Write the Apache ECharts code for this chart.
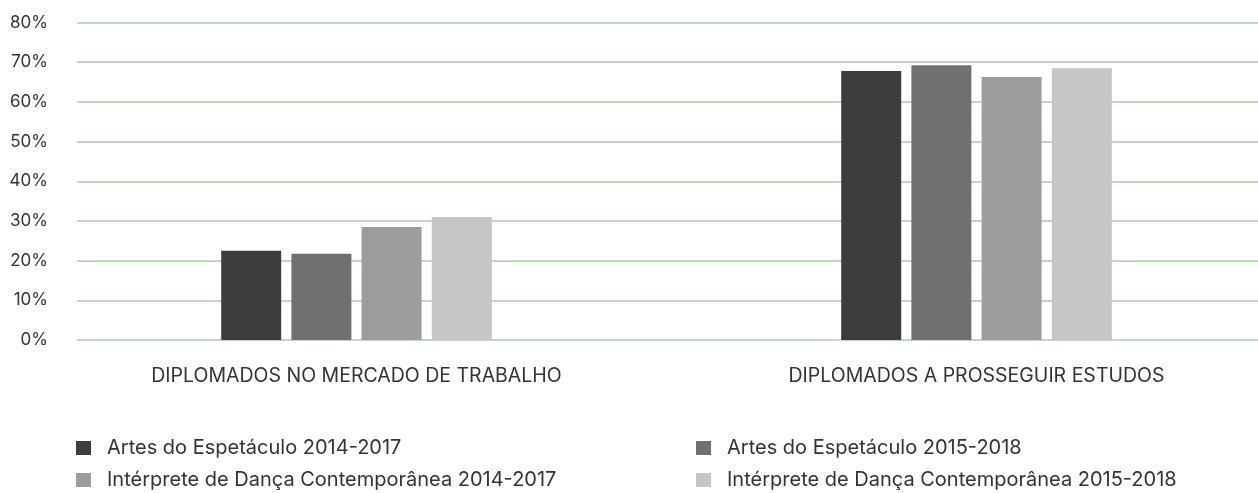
<!DOCTYPE html>
<html>
<head>
<meta charset="utf-8">
<script src="https://cdn.jsdelivr.net/npm/echarts@6/dist/echarts.min.js"></script>
<style>
html,body{margin:0;padding:0;background:#fff;}
#chart{width:1258px;height:493px;}
</style>
</head>
<body>
<div id="chart"></div>
<script>
const categories = ['DIPLOMADOS NO MERCADO DE TRABALHO', 'DIPLOMADOS A PROSSEGUIR ESTUDOS'];
const seriesNames = [
  'Artes do Espetáculo 2014-2017',
  'Artes do Espetáculo 2015-2018',
  'Intérprete de Dança Contemporânea 2014-2017',
  'Intérprete de Dança Contemporânea 2015-2018'
];
const artes1417 = [22.5, 67.75];
const artes1518 = [21.75, 69.25];
const danca1417 = [28.5, 66.25];
const danca1518 = [31, 68.5];
const seriesValues = [artes1417, artes1518, danca1417, danca1518];
const colors = ['#3c3c3a', '#707070', '#9d9d9b', '#c6c6c6'];

const FONT = 'Inter';
const chart = echarts.init(document.getElementById('chart'), null, {renderer: 'canvas'});

const legendPos = [
  {left: 76, top: 436},
  {left: 696, top: 436},
  {left: 76, top: 468},
  {left: 696, top: 468}
];

const option = {
  animation: false,
  backgroundColor: '#ffffff',
  grid: [
    {left: 77, right: 0, top: 22.5, height: 317.5, outerBoundsMode: 'none'},
    {left: 46.5, width: 1240, top: 22.5, height: 317.5, outerBoundsMode: 'none'}
  ],
  xAxis: [
    {type: 'category', gridIndex: 0, data: categories, show: false},
    {
      type: 'category', gridIndex: 1, data: categories,
      axisLine: {show: false}, axisTick: {show: false},
      axisLabel: {interval: 0, margin: 24, color: '#333333', fontSize: 19.5, fontFamily: FONT, lineHeight: 24}
    }
  ],
  yAxis: [
    {
      type: 'value', gridIndex: 0, min: 0, max: 80, interval: 10,
      axisLine: {show: false}, axisTick: {show: false},
      axisLabel: {formatter: '{value}%', margin: 29, color: '#333333', fontSize: 17, fontFamily: FONT},
      splitLine: {show: true, lineStyle: {color: '#badcba', width: 2}}
    },
    {
      type: 'value', gridIndex: 1, min: 0, max: 80, interval: 10, show: false,
      splitLine: {show: false}
    }
  ],
  legend: seriesNames.map((n, i) => ({
    data: [n],
    left: legendPos[i].left,
    top: legendPos[i].top,
    padding: 0,
    itemWidth: 15,
    itemHeight: 14,
    icon: 'rect',
    selectedMode: false,
    textStyle: {color: '#333333', fontSize: 20, fontFamily: FONT, padding: [0, 0, 0, 11], lineHeight: 24}
  })),
  series: seriesNames.map((n, i) => ({
    name: n,
    type: 'bar',
    xAxisIndex: 1,
    yAxisIndex: 1,
    data: seriesValues[i],
    barWidth: 60,
    barGap: '17%',
    itemStyle: {color: colors[i]}
  }))
};
chart.setOption(option);
</script>
</body>
</html>
